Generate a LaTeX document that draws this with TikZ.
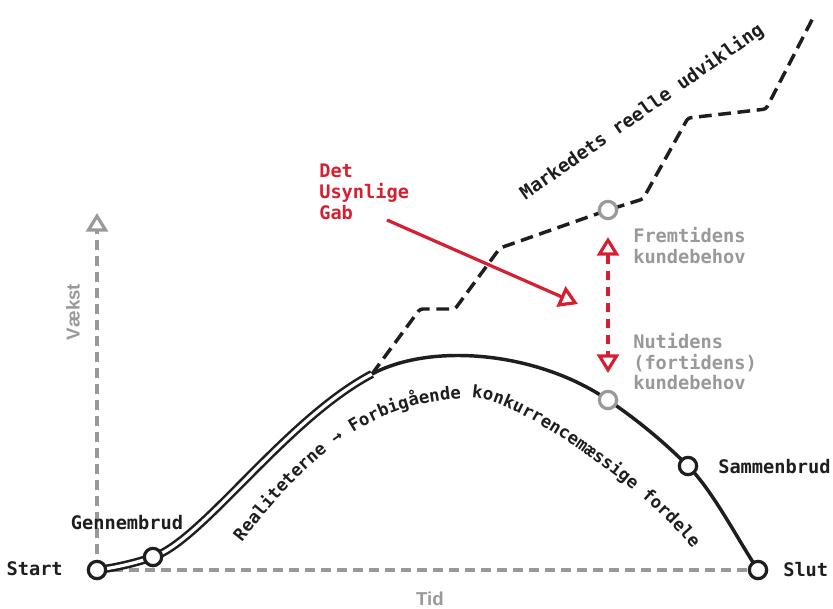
\documentclass[tikz,border=0pt]{standalone}
\usepackage{fontspec}
\setmonofont{DejaVu Sans Mono}
\setsansfont{Liberation Sans}
\usetikzlibrary{arrows.meta,decorations.text}
\definecolor{ink}{HTML}{1E1E1E}
\definecolor{gry}{HTML}{999999}
\definecolor{rd}{HTML}{D42030}
\begin{document}
\begin{tikzpicture}[x=0.75pt,y=-0.75pt,
  lbl/.style={font=\fontsize{14}{15.5}\selectfont\ttfamily\bfseries, text=ink, inner sep=0pt, align=left},
  glbl/.style={lbl, text=gry},
  rlbl/.style={lbl, text=rd},
  slbl/.style={font=\fontsize{14}{16}\selectfont\sffamily\bfseries, text=gry, inner sep=0pt},
  pt/.style={circle, draw=ink, fill=white, line width=2.4pt, minimum size=13pt, inner sep=0pt},
  gpt/.style={pt, draw=gry},
  ax/.style={draw=gry, line width=2.4pt, dash pattern=on 7.5pt off 4.5pt},
  curveline/.style={draw=ink, line width=2.6pt},
  dblline/.style={draw=ink, line width=1.9pt, double=white, double distance=2.4pt},
  market/.style={draw=ink, line width=2.6pt, dash pattern=on 9.5pt off 5pt, rounded corners=2pt},
  redline/.style={draw=rd, line width=2.4pt},
  tri/.style={-{Triangle[fill=white, length=14pt, width=16.5pt]}},
  tritri/.style={{Triangle[fill=white, length=14pt, width=16.5pt]}-{Triangle[fill=white, length=14pt, width=16.5pt]}}
]
\fill[white] (0,0) rectangle (833,608);
\useasboundingbox (0,0) rectangle (833,608);

% key coordinates
\coordinate (S) at (97,570);
\coordinate (G) at (153,557);
\coordinate (J) at (372,374);
\coordinate (N) at (608,400);
\coordinate (B) at (688,466);
\coordinate (E) at (758,570);
\coordinate (F) at (608,210);
\coordinate (Vtop) at (97,213);
\coordinate (M1) at (420,309);
\coordinate (M2) at (455,309);
\coordinate (M3) at (500,248);
\coordinate (M4) at (643,199);
\coordinate (M5) at (688,118);
\coordinate (M6) at (766,109);
\coordinate (M7) at (815,14);
\coordinate (Gab) at (387,220);
\coordinate (GabTip) at (578,304);
\coordinate (Ftip) at (608,237);
\coordinate (Ntip) at (608,373);

% axes
\draw[ax] (S) -- (E);
\draw[ax, tri] (S) -- (Vtop);

% market line
\draw[market] (J) -- (M1) -- (M2) -- (M3) -- (F) -- (M4) -- (M5) -- (M6) -- (M7);

% main curve
\draw[dblline] (S) .. controls (120,567) and (138,562) .. (G)
  .. controls (203,540) and (285,420) .. (J);
\draw[curveline] (J) .. controls (432,342) and (538,352) .. (N)
  .. controls (636,419) and (663,441) .. (B)
  .. controls (713,491) and (738,540) .. (E);

% curved text
\path[decorate, decoration={text along path, text color=ink,
   text={|\fontsize{13}{15}\selectfont\ttfamily\bfseries|Realiteterne → Forbigående konkurrencemæssige fordele}}]
  (242,542) .. controls (302,466) and (363,400) .. (472,398)
  .. controls (520,398) and (660,500) .. (697,555) -- (737,615);

% red arrows
\draw[redline, tri] (Gab) -- (GabTip);
\draw[redline, tritri, dash pattern=on 7pt off 5pt] (Ftip) -- (Ntip);

% points
\node[pt] (start) at (S) {};
\node[pt] (genn) at (G) {};
\node[pt] (samm) at (B) {};
\node[pt] (slut) at (E) {};
\node[gpt] (nut) at (N) {};
\node[gpt] (frem) at (F) {};

% labels
\node[lbl, anchor=east] (tStart) at (63,569) {Start};
\node[lbl] (tGenn) at (127,523) {Gennembrud};
\node[lbl, anchor=west] (tSamm) at (718,467) {Sammenbrud};
\node[lbl, anchor=west] (tSlut) at (783,570) {Slut};
\node[glbl, anchor=north west] (tFrem) at (633,227) {Fremtidens\\kundebehov};
\node[glbl, anchor=north west] (tNut) at (633,333) {Nutidens\\(fortidens)\\kundebehov};
\node[rlbl, anchor=north west] (tGab) at (319,164) {Det\\Usynlige\\Gab};
\node[lbl, rotate=35] (tMark) at (642,112) {Markedets reelle udvikling};
\node[slbl] (tTid) at (430,599) {Tid};
\node[slbl, rotate=90] (tVaekst) at (73,312) {Vækst};
\end{tikzpicture}
\end{document}
